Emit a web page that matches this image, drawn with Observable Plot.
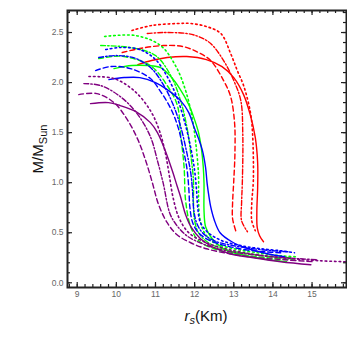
<!DOCTYPE html>
<html><head><meta charset="utf-8">
<script src="https://cdn.jsdelivr.net/npm/d3@7"></script>
<script src="https://cdn.jsdelivr.net/npm/@observablehq/plot@0.6"></script>
<style>body{margin:0;background:#fff;font-family:"Liberation Sans",Arial,sans-serif}</style>
</head><body><div id="chart"></div>
<script>
// ---- tick labels ----
const xTicks = [9, 10, 11, 12, 13, 14, 15];
const yTicks = [0, 0.5, 1, 1.5, 2, 2.5];
const yTickLabels = ["0.0", "0.5", "1.0", "1.5", "2.0", "2.5"];

// ---- series (radius r_s in km, mass in M_sun) ----
const redSolidR = [10.55,10.9,11.3,11.8,12.3,12.7,13.0,13.25,13.42,13.55,13.61,13.61,13.59,13.6,13.66,13.76];
const redSolidM = [2.18,2.22,2.25,2.26,2.23,2.16,2.05,1.88,1.68,1.45,1.2,0.95,0.72,0.55,0.47,0.41];
const redDashR = [10.15,10.6,11.2,11.7,12.1,12.41,12.74,12.92,13.02,13.03,13.0,12.97,12.97,13.05];
const redDashM = [2.30,2.34,2.37,2.36,2.30,2.22,2.02,1.86,1.6,1.3,1.02,0.8,0.64,0.52];
const redDotDashR = [10.79,11.2,11.8,12.1,12.41,12.74,13.0,13.18,13.23,13.22,13.2,13.2,13.35];
const redDotDashM = [2.49,2.50,2.49,2.46,2.39,2.22,2.02,1.82,1.49,1.02,0.8,0.62,0.51];
const redDotR = [10.40,10.9,11.56,11.9,12.3,12.67,12.92,13.09,13.26,13.43,13.48,13.5,13.46,13.46,13.55];
const redDotM = [2.52,2.57,2.59,2.59,2.56,2.49,2.29,2.12,1.96,1.69,1.49,1.02,0.8,0.62,0.52];

const greenSolidR = [9.94,10.4,10.8,11.13,11.39,11.62,11.85,11.98,12.1,12.17,12.22,12.24,12.24,12.28,12.41,12.6,12.84,13.2,13.6,14.1,14.35];
const greenSolidM = [2.14,2.17,2.17,2.15,2.06,1.94,1.78,1.65,1.5,1.35,1.16,0.99,0.72,0.56,0.46,0.38,0.32,0.28,0.25,0.22,0.21];
const greenDashR = [9.55,9.9,10.19,10.87,11.3,11.56,11.64,11.73,11.77,11.9,12.1,12.5,13.0,13.6,14.2,14.5];
const greenDashM = [2.24,2.26,2.26,2.17,1.97,1.77,1.49,1.16,0.82,0.56,0.42,0.34,0.29,0.26,0.24,0.23];
const greenDotDashR = [9.6,10.36,11.0,11.39,11.64,11.82,11.92,11.97,11.97,12.0,12.1,12.35,12.8,13.4,14.0,14.5];
const greenDotDashM = [2.37,2.35,2.27,2.07,1.82,1.52,1.22,1.02,0.8,0.62,0.5,0.4,0.33,0.29,0.26,0.25];
const greenDotR = [9.70,10.49,11.13,11.51,11.77,11.95,12.05,12.1,12.1,12.13,12.25,12.5,13.0,13.6,14.2,14.6];
const greenDotM = [2.46,2.47,2.37,2.17,1.92,1.62,1.32,1.07,0.85,0.65,0.5,0.4,0.34,0.3,0.27,0.26];

const blueSolidR = [9.81,10.2,10.6,11.0,11.3,11.64,11.85,11.98,12.1,12.2,12.28,12.32,12.37,12.41,12.5,12.65,12.95,13.3,13.86,14.3];
const blueSolidM = [2.03,2.05,2.05,2.0,1.93,1.82,1.7,1.56,1.44,1.32,1.15,0.99,0.85,0.76,0.63,0.5,0.41,0.35,0.29,0.26];
const blueDashR = [9.47,9.85,10.36,10.87,11.13,11.39,11.58,11.7,11.8,11.85,11.88,11.95,12.1,12.4,12.8,13.3,13.8,14.2];
const blueDashM = [2.12,2.16,2.14,2.04,1.91,1.74,1.55,1.35,1.15,0.95,0.75,0.6,0.5,0.42,0.37,0.33,0.31,0.3];
const blueDotDashR = [9.55,10.0,10.5,10.9,11.2,11.45,11.65,11.8,11.9,11.95,11.98,12.05,12.2,12.5,13.0,13.5,14.0,14.4];
const blueDotDashM = [2.25,2.27,2.24,2.14,1.98,1.78,1.55,1.3,1.1,0.9,0.72,0.6,0.5,0.42,0.37,0.34,0.32,0.31];
const blueDotR = [9.73,10.1,10.6,11.0,11.3,11.55,11.75,11.9,12.0,12.05,12.08,12.15,12.35,12.7,13.2,13.7,14.2,14.55];
const blueDotM = [2.33,2.35,2.33,2.23,2.06,1.85,1.6,1.35,1.12,0.92,0.75,0.6,0.5,0.42,0.37,0.34,0.32,0.3];

const purpleSolidR = [9.34,9.8,10.1,10.5,10.87,11.05,11.25,11.43,11.55,11.64,11.77,11.92,12.15,12.45,12.9,13.5,14.2,14.97];
const purpleSolidM = [1.79,1.80,1.77,1.71,1.60,1.50,1.32,1.12,0.97,0.86,0.68,0.55,0.44,0.36,0.29,0.25,0.21,0.18];
const purpleDashR = [9.04,9.5,9.94,10.28,10.55,10.75,10.92,11.08,11.3,11.55,11.9,12.3,12.9,13.6,14.3,15.05];
const purpleDashM = [1.88,1.89,1.80,1.63,1.43,1.22,1.0,0.78,0.6,0.48,0.4,0.34,0.29,0.25,0.23,0.21];
const purpleDotDashR = [9.17,9.6,10.1,10.53,10.87,11.05,11.2,11.37,11.55,11.8,12.2,12.8,13.5,14.3,15.15];
const purpleDotDashM = [1.99,1.97,1.86,1.69,1.46,1.22,0.99,0.69,0.57,0.47,0.39,0.32,0.28,0.25,0.23];
const purpleDotR = [9.3,9.94,10.45,10.87,11.1,11.25,11.35,11.45,11.6,11.85,12.3,12.9,13.6,14.5,15.2,15.86];
const purpleDotM = [2.06,2.04,1.92,1.72,1.52,1.3,1.08,0.85,0.65,0.5,0.4,0.33,0.28,0.24,0.22,0.21];

// ---- styles ----
const colors = {red: "#ff0000", green: "#00ff00", blue: "#0000ff", purple: "#800080"};
const dashes = {solid: null, dash: "5,3", dotdash: "5,2,1.5,2", dot: "1.6,3"};

const series = [
  ["red","solid",redSolidR,redSolidM],["red","dash",redDashR,redDashM],["red","dotdash",redDotDashR,redDotDashM],["red","dot",redDotR,redDotM],
  ["green","solid",greenSolidR,greenSolidM],["green","dash",greenDashR,greenDashM],["green","dotdash",greenDotDashR,greenDotDashM],["green","dot",greenDotR,greenDotM],
  ["blue","solid",blueSolidR,blueSolidM],["blue","dash",blueDashR,blueDashM],["blue","dotdash",blueDotDashR,blueDotDashM],["blue","dot",blueDotR,blueDotM],
  ["purple","solid",purpleSolidR,purpleSolidM],["purple","dash",purpleDashR,purpleDashM],["purple","dotdash",purpleDotDashR,purpleDotDashM],["purple","dot",purpleDotR,purpleDotM]
];

const W = 347, H = 356;
const mL = 67, mR = 1, mT = 10, mB = 69;
const plotW = W - mL - mR, plotH = H - mT - mB;

const xMinor = d3.range(8.8, 15.85, 0.2).map(v => +v.toFixed(2));
const yMinor = d3.range(0, 2.71, 0.1).map(v => +v.toFixed(2));
const majL = 5, minL = 3;

const lineMarks = series.map(([c, s, rs, ms]) =>
  Plot.line(rs.map((r, i) => ({r, m: ms[i]})), {
    x: "r", y: "m", stroke: colors[c], strokeWidth: s === "dot" ? 1.6 : 1.4,
    strokeDasharray: dashes[s], curve: "catmull-rom"
  })
);

const chart = Plot.plot({
  width: W, height: H,
  marginLeft: mL, marginRight: mR, marginTop: mT, marginBottom: mB,
  x: {domain: [8.752, 15.88], axis: null},
  y: {domain: [-0.047, 2.72], axis: null},
  style: {background: "#fff", fontFamily: "'Liberation Sans', Arial, sans-serif"},
  marks: [
    ...lineMarks,
    Plot.tickX(xMinor, {x: d => d, insetTop: plotH - minL, stroke: "#222", strokeWidth: 1.2}),
    Plot.tickX(xMinor, {x: d => d, insetBottom: plotH - minL, stroke: "#222", strokeWidth: 1.2}),
    Plot.tickX(xTicks, {x: d => d, insetTop: plotH - majL, stroke: "#222", strokeWidth: 1.2}),
    Plot.tickX(xTicks, {x: d => d, insetBottom: plotH - majL, stroke: "#222", strokeWidth: 1.2}),
    Plot.tickY(yMinor, {y: d => d, insetRight: plotW - minL, stroke: "#222", strokeWidth: 1.2}),
    Plot.tickY(yMinor, {y: d => d, insetLeft: plotW - minL, stroke: "#222", strokeWidth: 1.2}),
    Plot.tickY(yTicks, {y: d => d, insetRight: plotW - majL, stroke: "#222", strokeWidth: 1.2}),
    Plot.tickY(yTicks, {y: d => d, insetLeft: plotW - majL, stroke: "#222", strokeWidth: 1.2}),
    Plot.frame({stroke: "#222", strokeWidth: 2}),
    Plot.text(xTicks, {x: d => d, frameAnchor: "bottom", dy: 9, text: d => String(d), fill: "#666", fontSize: 8.5}),
    Plot.text(yTicks, {y: d => d, frameAnchor: "left", dx: -4, textAnchor: "end", text: (d, i) => yTickLabels[i], fill: "#666", fontSize: 8.5})
  ]
});

const svg = d3.select(chart);
// x-axis label: r_s(Km)
const xl = svg.append("text")
  .attr("x", 206).attr("y", 321).attr("text-anchor", "middle")
  .attr("font-size", 15).attr("fill", "#111")
  .attr("font-family", "'Liberation Sans', Arial, sans-serif");
xl.append("tspan").attr("font-style", "italic").text("r");
xl.append("tspan").attr("font-style", "italic").attr("font-size", 11).attr("dy", 3).text("s");
xl.append("tspan").attr("dy", -3).text("(Km)");
// y-axis label: M/M_Sun
const yl = svg.append("text")
  .attr("transform", "translate(43,149) rotate(-90)")
  .attr("text-anchor", "middle")
  .attr("font-size", 15).attr("fill", "#111")
  .attr("font-family", "'Liberation Sans', Arial, sans-serif");
yl.append("tspan").text("M/M");
yl.append("tspan").attr("font-size", 11).attr("dy", 4).text("Sun");

document.getElementById("chart").appendChild(chart);
</script>
</body></html>
